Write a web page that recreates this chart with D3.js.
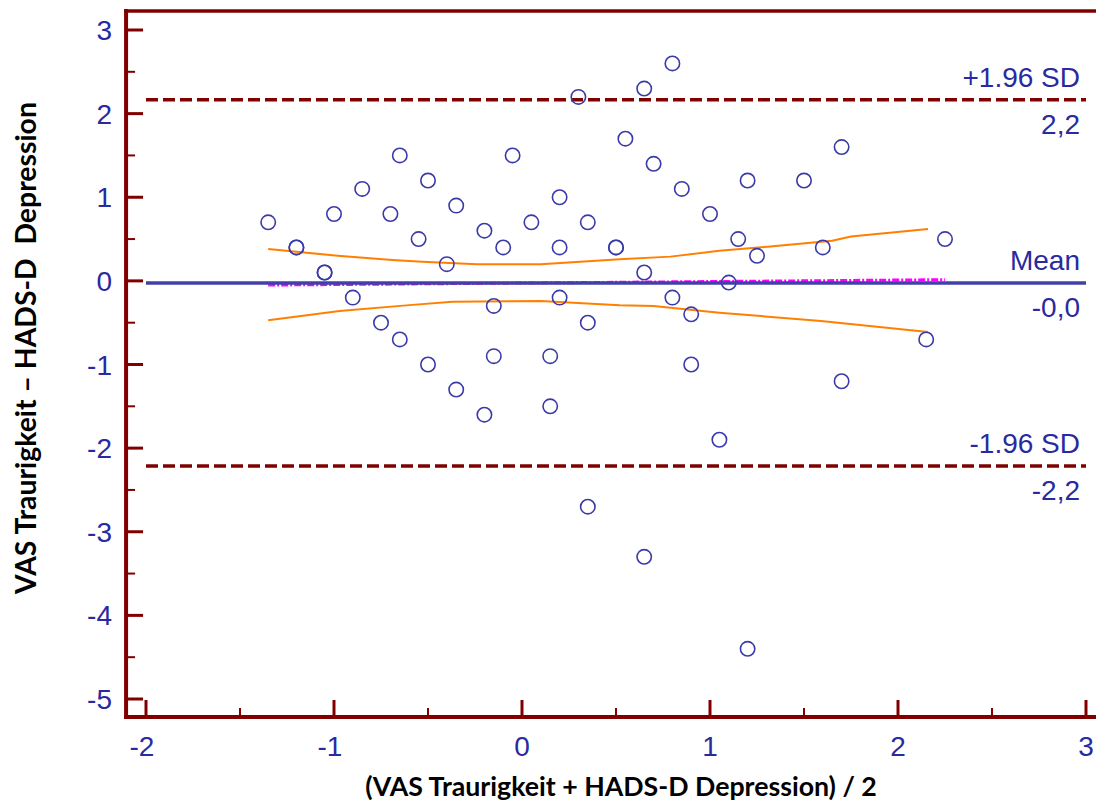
<!DOCTYPE html>
<html>
<head>
<meta charset="utf-8">
<script src="https://cdn.jsdelivr.net/npm/d3@7"></script>
<style>
  body { margin: 0; background: #fff; }
  svg { display: block; }
  .num { font-family: "Liberation Sans", Arial, Helvetica, sans-serif; font-size: 28px; }
</style>
</head>
<body>
<div id="vis"></div>
<script>
// Bland-Altman: mean of both measures (x) vs. difference (y)
var meanVals = [-1.35, -1.2, -1.2, -1.05, -1.05, -0.9, -1.0, -0.85, -0.75, -0.65, -0.7, -0.65, -0.55, -0.5, -0.5,
  -0.4, -0.35, -0.35, -0.2, -0.2, -0.15, -0.15, -0.1, -0.05, 0.05, 0.15, 0.15, 0.2, 0.2, 0.2,
  0.3, 0.35, 0.35, 0.35, 0.5, 0.5, 0.55, 0.65, 0.8, 0.65, 0.65, 0.7, 0.8, 0.85, 0.9, 0.9,
  1.0, 1.05, 1.1, 1.15, 1.2, 1.2, 1.25, 1.5, 1.6, 1.7, 1.7, 2.15, 2.25];
var diffVals = [0.7, 0.4, 0.4, 0.1, 0.1, -0.2, 0.8, 1.1, -0.5, -0.7, 0.8, 1.5, 0.5, 1.2, -1.0,
  0.2, 0.9, -1.3, 0.6, -1.6, -0.3, -0.9, 0.4, 1.5, 0.7, -0.9, -1.5, 1.0, 0.4, -0.2,
  2.2, 0.7, -0.5, -2.7, 0.4, 0.4, 1.7, 2.3, 2.6, 0.1, -3.3, 1.4, -0.2, 1.1, -0.4, -1.0,
  0.8, -1.9, -0.02, 0.5, 1.2, -4.4, 0.3, 1.2, 0.4, 1.6, -1.2, -0.7, 0.5];

// confidence band (orange)
var bandX = [-1.35, -0.98, -0.69, -0.53, -0.24, 0.1, 0.31, 0.52, 0.79, 1.05, 1.32, 1.65, 1.75, 2.16];
var bandUp = [0.38, 0.3, 0.25, 0.23, 0.2, 0.2, 0.23, 0.26, 0.29, 0.36, 0.41, 0.48, 0.53, 0.62];
var bandLoX = [-1.35, -0.97, -0.6, -0.37, 0.1, 0.52, 0.7, 1.05, 1.59, 2.16];
var bandLo = [-0.47, -0.36, -0.29, -0.25, -0.24, -0.29, -0.3, -0.38, -0.48, -0.61];

// regression of differences (magenta)
var regX = [-1.35, 2.25];
var regY = [-0.05, 0.014];

var meanDiff = -0.024, upperLoA = 2.165, lowerLoA = -2.213;
var limitNames = ["+1.96 SD", "Mean", "-1.96 SD"];
var limitVals = [upperLoA, meanDiff, lowerLoA];

var xTicks = [-2, -1, 0, 1, 2, 3];
var yTicks = [3, 2, 1, 0, -1, -2, -3, -4, -5];
var xTitle = "(VAS Traurigkeit + HADS-D Depression) / 2";
var yTitle = "VAS Traurigkeit \u2013 HADS-D\u00a0 Depression";

var W = 1096, H = 805;
var axisCol = "#800000", txtCol = "#2a2aa0";

var x = d3.scaleLinear().domain([-2, 3]).range([146, 1086]);
var y = d3.scaleLinear().domain([-5, 3]).range([699, 30]);
var xLeft = -2.106, xRight = 3.06, yBottom = -5.215, yTop = 3.227;

var svg = d3.select("#vis").append("svg")
  .attr("width", W).attr("height", H);

// orange band
var line = d3.line().x(function (d) { return x(d[0]); }).y(function (d) { return y(d[1]); });
svg.append("path").datum(d3.zip(bandX, bandUp))
  .attr("d", line).attr("fill", "none").attr("stroke", "#ff8000").attr("stroke-width", 2);
svg.append("path").datum(d3.zip(bandLoX, bandLo))
  .attr("d", line).attr("fill", "none").attr("stroke", "#ff8000").attr("stroke-width", 2);

// regression line, mostly hidden behind the mean
svg.append("path").datum(d3.zip(regX, regY))
  .attr("d", line).attr("fill", "none").attr("stroke", "#ff00ff")
  .attr("stroke-width", 3).attr("stroke-dasharray", "7,2,2,2");

// limits of agreement and mean
limitVals.forEach(function (v, i) {
  var l = svg.append("line")
    .attr("x1", x(-2)).attr("x2", x(3))
    .attr("y1", y(v)).attr("y2", y(v));
  if (i == 1) {
    l.attr("stroke", "#4040a8").attr("stroke-width", 3.5);
  } else {
    l.attr("stroke", axisCol).attr("stroke-width", 3.5).attr("stroke-dasharray", "12,5");
  }
  var fmt = v.toFixed(1).replace(".", ",");
  svg.append("text").attr("class", "num").attr("x", 1080).attr("y", y(v) - 13)
    .attr("text-anchor", "end").attr("fill", txtCol)
    .text(limitNames[i]);
  svg.append("text").attr("class", "num").attr("x", 1080).attr("y", y(v) + 34)
    .attr("text-anchor", "end").attr("fill", txtCol)
    .text(fmt);
});

// points
svg.selectAll(".pt")
  .data(d3.zip(meanVals, diffVals))
  .enter().append("circle")
  .attr("class", "pt")
  .attr("cx", function (d) { return x(d[0]); })
  .attr("cy", function (d) { return y(d[1]); })
  .attr("r", 7.2)
  .attr("fill", "none")
  .attr("stroke", "#3a3aa8")
  .attr("stroke-width", 1.6);

// frame / axes
var g = svg.append("g").attr("stroke", axisCol).attr("stroke-linecap", "square");
g.append("line").attr("x1", x(xLeft)).attr("x2", x(xLeft)).attr("y1", y(yTop)).attr("y2", y(yBottom)).attr("stroke-width", 4);
g.append("line").attr("x1", x(xLeft)).attr("x2", x(xRight)).attr("y1", y(yBottom)).attr("y2", y(yBottom)).attr("stroke-width", 4);
g.append("line").attr("x1", x(xLeft)).attr("x2", x(xRight)).attr("y1", y(yTop)).attr("y2", y(yTop)).attr("stroke-width", 3.5);

var yMinor = d3.range(-4.5, 3, 1);
yTicks.forEach(function (t) {
  g.append("line").attr("x1", x(xLeft)).attr("x2", x(xLeft) + 17)
    .attr("y1", y(t)).attr("y2", y(t)).attr("stroke-width", 3).attr("stroke-linecap", "butt");
});
yMinor.forEach(function (t) {
  g.append("line").attr("x1", x(xLeft)).attr("x2", x(xLeft) + 9)
    .attr("y1", y(t)).attr("y2", y(t)).attr("stroke-width", 2).attr("stroke-linecap", "butt");
});
var xMinor = d3.range(-1.5, 3, 1);
xTicks.forEach(function (t) {
  g.append("line").attr("x1", x(t)).attr("x2", x(t))
    .attr("y1", y(yBottom)).attr("y2", y(yBottom) - 17).attr("stroke-width", 3).attr("stroke-linecap", "butt");
});
xMinor.forEach(function (t) {
  g.append("line").attr("x1", x(t)).attr("x2", x(t))
    .attr("y1", y(yBottom)).attr("y2", y(yBottom) - 9).attr("stroke-width", 2).attr("stroke-linecap", "butt");
});

// tick labels
svg.selectAll(".ylab").data(yTicks).enter().append("text")
  .attr("class", "num")
  .attr("x", 112).attr("y", function (d) { return y(d) + 10; })
  .attr("text-anchor", "end").attr("fill", txtCol)
  .text(function (d) { return String(d); });
svg.selectAll(".xlab").data(xTicks).enter().append("text")
  .attr("class", "num")
  .attr("x", function (d) { return x(d) - (d < 0 ? 4 : 0); }).attr("y", 756)
  .attr("text-anchor", "middle").attr("fill", txtCol)
  .text(function (d) { return String(d); });

// axis titles
function fitText(sel, width, base) {
  var w = sel.node().getComputedTextLength();
  sel.style("font-size", (base * width / w) + "px");
}
var xt = svg.append("text").attr("x", 621).attr("y", 796)
  .attr("text-anchor", "middle").attr("fill", "#000")
  .style("font-family", "Lato, 'Open Sans', sans-serif").style("font-weight", "bold")
  .style("font-size", "24px").text(xTitle);
fitText(xt, 512, 24);
var yt = svg.append("text")
  .attr("transform", "translate(36,348) rotate(-90)")
  .attr("text-anchor", "middle").attr("fill", "#000")
  .style("font-family", "Lato, 'Open Sans', sans-serif").style("font-weight", "bold")
  .style("font-size", "24px").text(yTitle);
fitText(yt, 492, 24);
</script>
</body>
</html>
